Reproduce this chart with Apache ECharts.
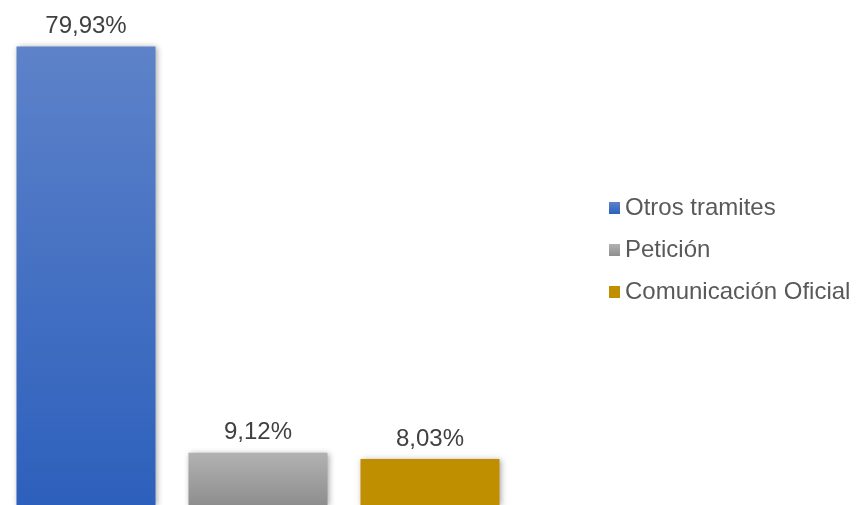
<!DOCTYPE html>
<html>
<head>
<meta charset="utf-8">
<script src="https://cdn.jsdelivr.net/npm/echarts@6/dist/echarts.min.js"></script>
<style>
  html, body { margin: 0; padding: 0; background: #fff; }
  #chart { width: 856px; height: 505px; }
</style>
</head>
<body>
<div id="chart"></div>
<script>
// Share of requests by type (%)
var categories = ['Otros tramites', 'Petición', 'Comunicación Oficial'];
var values = [79.93, 9.12, 8.03];

var fills = [
  new echarts.graphic.LinearGradient(0, 0, 0, 1, [
    { offset: 0, color: '#5d82c9' },
    { offset: 1, color: '#2d60bc' }
  ]),
  new echarts.graphic.LinearGradient(0, 0, 0, 1, [
    { offset: 0, color: '#b2b2b2' },
    { offset: 1, color: '#8e8e8e' }
  ]),
  '#bf8f00'
];
var legendIcons = ['#3a69c2', '#a2a2a2', '#bf8f00'];

function pct(v) {
  return v.toFixed(2).replace('.', ',') + '%';
}

var series = categories.map(function (name, i) {
  var data = categories.map(function (c, j) { return j === i ? values[i] : '-'; });
  return {
    name: name,
    type: 'bar',
    data: data,
    barWidth: 139,
    barGap: '-100%',
    color: legendIcons[i],
    itemStyle: {
      color: fills[i],
      shadowBlur: 6,
      shadowColor: 'rgba(0,0,0,0.35)',
      shadowOffsetX: 1,
      shadowOffsetY: 1
    },
    label: {
      show: true,
      position: 'top',
      distance: 8,
      fontFamily: 'Liberation Sans',
      fontSize: 24,
      color: '#404040',
      formatter: function (p) { return pct(p.value); }
    },
    emphasis: { disabled: true }
  };
});

var chart = echarts.init(document.getElementById('chart'), null, { renderer: 'canvas' });
chart.setOption({
  animation: false,
  backgroundColor: '#ffffff',
  grid: { left: 0, top: 46, width: 516, height: 460, containLabel: false },
  xAxis: {
    type: 'category',
    data: categories,
    show: false
  },
  yAxis: {
    type: 'value',
    min: 0,
    max: 80,
    show: false
  },
  legend: {
    orient: 'vertical',
    left: 609,
    top: 196,
    padding: 0,
    icon: 'rect',
    itemWidth: 11,
    itemHeight: 12,
    itemGap: 18,
    itemTextGap: 8,
    selectedMode: false,
    itemStyle: { borderWidth: 0 },
    textStyle: {
      fontFamily: 'Liberation Sans',
      fontSize: 24,
      color: '#595959'
    },
    data: categories
  },
  series: series
});
</script>
</body>
</html>
